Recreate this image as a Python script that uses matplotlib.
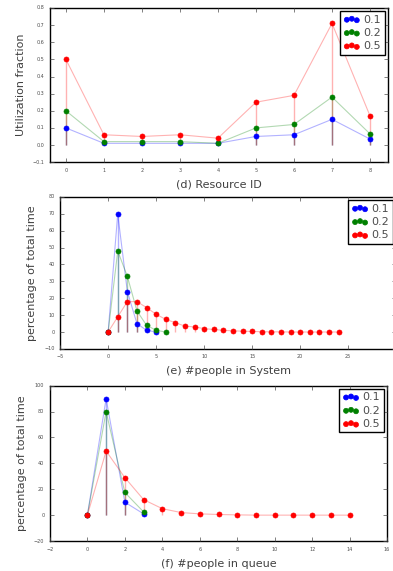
import numpy as np
import matplotlib
matplotlib.use("Agg")
import matplotlib.pyplot as plt

plt.style.use("classic")

# legend labels and colours
labels = ["0.1", "0.2", "0.5"]
colors = ["b", "g", "r"]

# (d) utilization per resource
res_ids = list(range(9))
util = [
    [0.10, 0.01, 0.01, 0.01, 0.01, 0.05, 0.06, 0.15, 0.035],
    [0.20, 0.02, 0.02, 0.02, 0.01, 0.10, 0.12, 0.28, 0.065],
    [0.50, 0.06, 0.05, 0.06, 0.04, 0.25, 0.29, 0.71, 0.17],
]

# (e) people in system
sys_ticks = [-5, 0, 5, 10, 15, 20, 25]
sys_n = [
    [0, 70, 24, 5, 1, 0],
    [0, 48, 33, 12.5, 4, 1, 0],
    [0, 9, 18, 18, 14.5, 10.5, 7.5, 5.5, 3.5, 3, 2, 1.5, 1, 0.7, 0.5,
     0.3, 0.2, 0.1, 0.1, 0, 0, 0, 0, 0, 0],
]

# (f) people in queue
queue_n = [
    [0, 90, 10, 1],
    [0, 80, 17.5, 2.5],
    [0, 49.5, 29, 12, 5, 2, 1, 0.5, 0.2, 0, 0, 0, 0, 0, 0],
]


def draw_panel(ax, series, xlabel, ylabel):
    for vals, c, lab in zip(series, colors, labels):
        x = np.arange(len(vals))
        y = np.array(vals, dtype=float)
        ax.errorbar(x, y, yerr=[y, np.zeros_like(y)], fmt="none",
                    ecolor=c, alpha=0.3, elinewidth=1.0, capsize=0)
        ax.plot(x, y, color=c, alpha=0.3, lw=0.8)
        ax.scatter(x, y, color=c, s=13, edgecolors=c, lw=0.5, label=lab, zorder=3)
    ax.set_xlabel(xlabel, fontsize=8, color="0.25")
    ax.set_ylabel(ylabel, fontsize=8, color="0.25")
    ax.tick_params(labelsize=3.5, length=3, colors="0.3")
    leg = ax.legend(loc="upper right", fontsize=8, scatterpoints=3,
                    handletextpad=0.3, borderpad=0.3, labelspacing=0.3,
                    handlelength=1.5, borderaxespad=0.3)
    leg.get_frame().set_linewidth(1.0)
    for t in leg.get_texts():
        t.set_color("0.3")
    for sp in ax.spines.values():
        sp.set_linewidth(1.0)


fig = plt.figure(figsize=(3.93, 5.71), dpi=100, facecolor="white")

ax1 = fig.add_axes([0.127, 0.716, 0.86, 0.27])
draw_panel(ax1, util, "(d) Resource ID", "Utilization fraction")
ax1.set_xlim(-0.42, 8.47)
ax1.set_ylim(-0.1, 0.8)
ax1.set_xticks(res_ids)

ax2 = fig.add_axes([0.153, 0.389, 0.855, 0.266])
draw_panel(ax2, sys_n, "(e) #people in System", "percentage of total time")
ax2.set_xlim(-5, 30)
ax2.set_ylim(-10, 80)
ax2.set_xticks(sys_ticks)

ax3 = fig.add_axes([0.127, 0.0525, 0.858, 0.272])
draw_panel(ax3, queue_n, "(f) #people in queue", "percentage of total time")
ax3.set_xlim(-2, 16)
ax3.set_ylim(-20, 100)

fig.savefig("out.png", dpi=100, facecolor="white")
